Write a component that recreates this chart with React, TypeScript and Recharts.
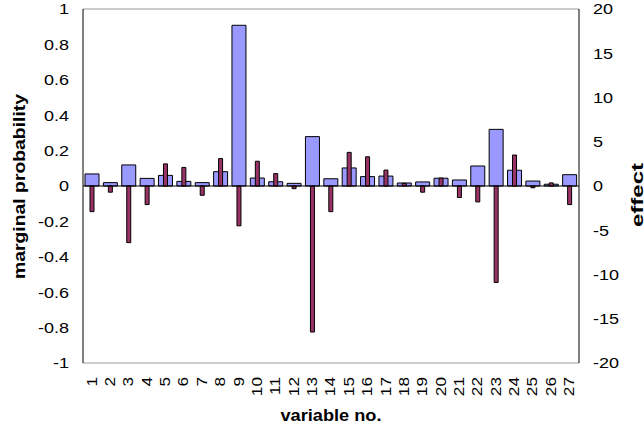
import React from "react";
import { BarChart, Bar, XAxis, YAxis, ReferenceLine } from "recharts";

const variables = ["1","2","3","4","5","6","7","8","9","10","11","12","13","14","15","16","17","18","19","20","21","22","23","24","25","26","27"];
const marginalProbability = [0.068,0.019,0.119,0.043,0.06,0.026,0.019,0.081,0.908,0.045,0.024,0.015,0.279,0.041,0.102,0.053,0.056,0.017,0.023,0.044,0.034,0.113,0.32,0.089,0.028,0.01,0.064];
const effect = [-2.9,-0.7,-6.4,-2.1,2.5,2.1,-1.05,3.1,-4.5,2.8,1.4,-0.3,-16.5,-2.9,3.8,3.3,1.8,0.3,-0.7,0.9,-1.3,-1.8,-10.9,3.5,-0.2,0.35,-2.1];
const leftTicks = [-1,-0.8,-0.6,-0.4,-0.2,0,0.2,0.4,0.6,0.8,1];
const rightTicks = [-20,-15,-10,-5,0,5,10,15,20];

const data = variables.map((v, i) => ({ variable: v, prob: marginalProbability[i], effect: effect[i] }));

const FONT = "'Liberation Sans', Arial, Helvetica, sans-serif";

const XTick = (props: any) => {
  const { x, y, payload } = props;
  return (
    <text
      transform={`translate(${x - 1}, ${y}) rotate(-90) scale(1.15, 1)`}
      x={0}
      y={0}
      dy="0.36em"
      textAnchor="end"
      fontSize={15}
      fontFamily={FONT}
      fill="#000"
    >
      {payload.value}
    </text>
  );
};

const YTick = (props: any) => {
  const { x, y, payload, anchor } = props;
  return (
    <text
      transform={`translate(${x}, ${y}) scale(1.2, 1)`}
      x={0}
      y={0}
      dy="0.36em"
      textAnchor={anchor}
      fontSize={15}
      fontFamily={FONT}
      fill="#000"
    >
      {payload.value}
    </text>
  );
};

const LeftTitle = (props: any) => {
  const vb = props.viewBox;
  const cx = vb.x + 20;
  const cy = vb.y + vb.height / 2 + 0.5;
  return (
    <text
      x={cx}
      y={cy}
      transform={`rotate(-90, ${cx}, ${cy})`}
      dy="0.3em"
      textAnchor="middle"
      textLength={185}
      lengthAdjust="spacingAndGlyphs"
      fontSize={16}
      fontWeight="bold"
      fontFamily={FONT}
      fill="#000"
    >
      marginal probability
    </text>
  );
};

const RightTitle = (props: any) => {
  const vb = props.viewBox;
  const bx = vb.x + vb.width - 1.5;
  const cy = vb.y + vb.height / 2 + 9;
  return (
    <text
      x={bx}
      y={cy}
      transform={`rotate(-90, ${bx}, ${cy})`}
      textAnchor="middle"
      textLength={64}
      lengthAdjust="spacingAndGlyphs"
      fontSize={16}
      fontWeight="bold"
      fontFamily={FONT}
      fill="#000"
    >
      effect
    </text>
  );
};

const BottomTitle = (props: any) => {
  const vb = props.viewBox;
  const cx = vb.x + vb.width / 2;
  const by = vb.y + vb.height - 8;
  return (
    <text
      x={cx}
      y={by}
      textAnchor="middle"
      textLength={101}
      lengthAdjust="spacingAndGlyphs"
      fontSize={16}
      fontWeight="bold"
      fontFamily={FONT}
      fill="#000"
    >
      variable no.
    </text>
  );
};

export default function App() {
  return (
    <div style={{ position: "absolute", left: 0, top: 0 }}>
      <BarChart width={644} height={429} data={data} margin={{ top: 9, right: 0, bottom: 0, left: 0 }}>
        <XAxis
          xAxisId="a"
          dataKey="variable"
          interval={0}
          height={66}
          tickLine={false}
          tickSize={0}
          tickMargin={14}
          tick={<XTick />}
          axisLine={{ stroke: "#999" }}
          label={BottomTitle}
        />
        <XAxis xAxisId="b" dataKey="variable" hide />
        <YAxis
          yAxisId="left"
          orientation="left"
          width={83}
          domain={[-1, 1]}
          ticks={leftTicks}
          interval={0}
          tickLine={false}
          tickSize={0}
          tickMargin={14}
          axisLine={{ stroke: "#000" }}
          tick={<YTick anchor="end" />}
          label={LeftTitle}
        />
        <YAxis
          yAxisId="right"
          orientation="right"
          width={65}
          domain={[-20, 20]}
          ticks={rightTicks}
          interval={0}
          tickLine={false}
          tickSize={0}
          tickMargin={14}
          axisLine={{ stroke: "#000" }}
          tick={<YTick anchor="start" />}
          label={RightTitle}
        />
        <ReferenceLine yAxisId="left" xAxisId="a" y={1} stroke="#999" />
        <Bar xAxisId="a" yAxisId="left" dataKey="prob" barSize={14} fill="#9999FF" stroke="#000" strokeWidth={1} isAnimationActive={false} />
        <Bar xAxisId="b" yAxisId="right" dataKey="effect" barSize={4} fill="#993366" stroke="#000" strokeWidth={1} isAnimationActive={false} />
        <ReferenceLine yAxisId="left" xAxisId="a" y={0} stroke="#000" />
      </BarChart>
    </div>
  );
}
